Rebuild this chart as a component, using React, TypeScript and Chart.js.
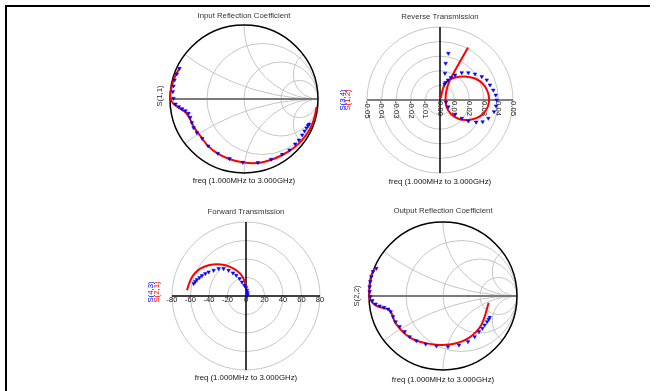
import React, { useEffect, useRef } from "react";
import { Chart, registerables } from "chart.js";
Chart.register(...registerables);

// ---------- data ----------
const FREQ_LABEL = "freq (1.000MHz to 3.000GHz)";

// S(1,1) red line, S(1,1) blue markers (reflection coefficient, re/im)
const s11Line: [number, number][] = [
  [-0.87, 0.42], [-0.93, 0.31], [-0.975, 0.18], [-0.995, 0.03], [-0.96, -0.06],
  [-0.88, -0.12], [-0.79, -0.18], [-0.73, -0.27], [-0.67, -0.39], [-0.59, -0.5],
  [-0.49, -0.63], [-0.36, -0.735], [-0.2, -0.81], [-0.02, -0.855], [0.18, -0.865],
  [0.37, -0.82], [0.53, -0.75], [0.68, -0.655], [0.8, -0.54], [0.89, -0.41],
  [0.95, -0.26], [0.98, -0.11],
];
const s11Marks: [number, number][] = [
  [-0.872, 0.414], [-0.908, 0.338], [-0.939, 0.257], [-0.953, 0.176], [-0.962, 0.099],
  [-0.953, 0.009], [-0.926, -0.068], [-0.881, -0.104], [-0.836, -0.131], [-0.791, -0.158],
  [-0.75, -0.194], [-0.727, -0.248], [-0.705, -0.32], [-0.682, -0.387], [-0.637, -0.455],
  [-0.565, -0.532], [-0.484, -0.635], [-0.354, -0.734], [-0.196, -0.806], [-0.016, -0.856],
  [0.187, -0.86], [0.367, -0.815], [0.516, -0.748], [0.615, -0.689], [0.691, -0.608],
  [0.741, -0.554], [0.786, -0.486], [0.818, -0.432], [0.845, -0.392], [0.865, -0.36],
  [0.88, -0.34],
];

// Reverse transmission: S(1,2) red line, S(3,4) blue markers
const s12Line: [number, number][] = [
  [0.0005, 0.0012], [0.0014, 0.0055], [0.0027, 0.0096], [0.0048, 0.0127], [0.0082, 0.0147],
  [0.013, 0.0159], [0.0185, 0.016], [0.024, 0.0147], [0.0288, 0.0116], [0.0322, 0.0068],
  [0.0336, 0.0014], [0.0329, -0.0041], [0.0301, -0.0089], [0.0253, -0.0123], [0.0192, -0.0137],
  [0.013, -0.013], [0.0075, -0.0096], [0.0045, -0.0048], [0.0038, 0.0007], [0.0045, 0.0068],
  [0.0062, 0.0123], [0.0086, 0.0171], [0.0116, 0.0226], [0.0151, 0.0288], [0.0192, 0.036],
];
const s34Marks: [number, number][] = [
  [0.0041, -0.0014], [0.0057, -0.0046], [0.0103, -0.0098], [0.0149, -0.0125], [0.0194, -0.0144],
  [0.0247, -0.0151], [0.0292, -0.0149], [0.0331, -0.0125], [0.037, -0.008], [0.0384, -0.0041],
  [0.0388, 0.0], [0.0382, 0.0034], [0.0365, 0.0068], [0.0342, 0.0103], [0.032, 0.0137],
  [0.0286, 0.016], [0.024, 0.0178], [0.0194, 0.0187], [0.0149, 0.0187], [0.0103, 0.0171],
  [0.0075, 0.0154], [0.0055, 0.0137], [0.0038, 0.012], [0.0031, 0.011], [0.0034, 0.0183],
  [0.0039, 0.0251], [0.0057, 0.032],
];

// Forward transmission: S(2,1) red line, S(4,3) blue markers
const s21Line: [number, number][] = [
  [0.5, 1], [0.5, 5], [0, 9.7], [-1.8, 17], [-6.2, 24.2], [-13.4, 29.6], [-22.4, 33.2],
  [-31.4, 34.3], [-40.4, 33.2], [-49.4, 29.6], [-55, 24.8], [-58.6, 20], [-61.5, 13.5],
  [-63.8, 6.2],
];
const s43Marks: [number, number][] = [
  [-56.6, 13.4], [-54.8, 15.6], [-53, 17.7], [-50.3, 19.9], [-47.6, 22], [-44, 24.2],
  [-40.4, 26], [-35, 27.8], [-29.6, 29.6], [-24.2, 29.6], [-18.8, 27.8], [-14.1, 24.9],
  [-10.5, 22.4], [-6.9, 18.8], [-4.3, 15.1], [-1.8, 11.6], [0, 9.1], [1.1, 6.2],
  [1.7, 3.7], [1.7, 1.4], [1.1, 0],
];

// Output reflection: S(2,2) red line, S(2,2) blue markers
const s22Line: [number, number][] = [
  [-0.923, 0.374], [-0.968, 0.284], [-0.991, 0.171], [-0.995, 0.059], [-0.991, -0.032],
  [-0.946, -0.099], [-0.878, -0.144], [-0.788, -0.167], [-0.721, -0.189], [-0.685, -0.257],
  [-0.653, -0.347], [-0.586, -0.437], [-0.495, -0.527], [-0.383, -0.595], [-0.225, -0.64],
  [-0.045, -0.662], [0.113, -0.653], [0.248, -0.617], [0.36, -0.559], [0.45, -0.482],
  [0.518, -0.392], [0.563, -0.279], [0.595, -0.167], [0.617, -0.09],
];
const s22Marks: [number, number][] = [
  [-0.901, 0.374], [-0.946, 0.329], [-0.968, 0.261], [-0.982, 0.194], [-0.991, 0.126],
  [-0.991, 0.059], [-0.982, -0.009], [-0.955, -0.063], [-0.91, -0.108], [-0.856, -0.135],
  [-0.797, -0.153], [-0.743, -0.176], [-0.707, -0.212], [-0.676, -0.279], [-0.64, -0.347],
  [-0.586, -0.414], [-0.518, -0.482], [-0.45, -0.55], [-0.36, -0.604], [-0.234, -0.649],
  [-0.09, -0.676], [0.068, -0.685], [0.216, -0.662], [0.338, -0.617], [0.428, -0.55],
  [0.486, -0.482], [0.532, -0.437], [0.563, -0.392], [0.595, -0.347], [0.617, -0.315],
  [0.631, -0.288],
];

const smithCircles = [1 / 3, 1, 3];
const smithArcs = [1 / 3, 1, 3];
const reverseTicks = [-0.05, -0.04, -0.03, -0.02, -0.01, 0, 0.01, 0.02, 0.03, 0.04, 0.05];
const forwardTicks = [-80, -60, -40, -20, 0, 20, 40, 60, 80];

// ---------- layout / style ----------
const CW = 220;
const CH = 200;
const FONT = '"Liberation Sans", Arial, sans-serif';
const RED = "#ff0000";
const BLUE = "#0000ff";
const GRID = "#c6c6c6";

type YLabel = { text: string; color: string; dx: number; dy: number };
type PanelCfg = {
  kind: "smith" | "polar";
  cx: number; cy: number; R: number; max: number;
  title: string; titleDy: number; freqDy: number;
  line: [number, number][]; marks: [number, number][];
  ylabels: YLabel[];
  ticks?: number[]; tickMode?: "rot" | "flat"; hAxisColor?: string;
};

const panels: PanelCfg[] = [
  {
    kind: "smith", cx: 244, cy: 99, R: 74, max: 1,
    title: "Input Reflection Coefficient", titleDy: -83, freqDy: 82,
    line: s11Line, marks: s11Marks,
    ylabels: [{ text: "S(1,1)", color: "#333", dx: -84, dy: -3 }],
  },
  {
    kind: "polar", cx: 440, cy: 100, R: 73, max: 0.05,
    title: "Reverse Transmission", titleDy: -83, freqDy: 82,
    line: s12Line, marks: s34Marks,
    ylabels: [
      { text: "S(3,4)", color: BLUE, dx: -97, dy: 0 },
      { text: "S(1,2)", color: RED, dx: -92, dy: 0 },
    ],
    ticks: reverseTicks, tickMode: "rot", hAxisColor: "#808080",
  },
  {
    kind: "polar", cx: 246, cy: 296, R: 74, max: 80,
    title: "Forward Transmission", titleDy: -84, freqDy: 82,
    line: s21Line, marks: s43Marks,
    ylabels: [
      { text: "S(4,3)", color: BLUE, dx: -95, dy: -4 },
      { text: "S(2,1)", color: RED, dx: -89, dy: -4 },
    ],
    ticks: forwardTicks, tickMode: "flat", hAxisColor: "#000",
  },
  {
    kind: "smith", cx: 443, cy: 296, R: 74, max: 1,
    title: "Output Reflection Coefficient", titleDy: -85, freqDy: 84,
    line: s22Line, marks: s22Marks,
    ylabels: [{ text: "S(2,2)", color: "#333", dx: -86, dy: 0 }],
  },
];

function drawGrid(chart: any, cfg: PanelCfg) {
  const ctx: CanvasRenderingContext2D = chart.ctx;
  const xs = chart.scales.x;
  const ys = chart.scales.y;
  const cx = xs.getPixelForValue(0);
  const cy = ys.getPixelForValue(0);
  const R = xs.getPixelForValue(cfg.max) - cx;
  const u = R / cfg.max;
  ctx.save();
  if (cfg.kind === "smith") {
    ctx.save();
    ctx.beginPath();
    ctx.arc(cx, cy, R, 0, Math.PI * 2);
    ctx.clip();
    ctx.strokeStyle = GRID;
    ctx.lineWidth = 1;
    for (const r of smithCircles) {
      ctx.beginPath();
      ctx.arc(xs.getPixelForValue(r / (1 + r)), cy, u / (1 + r), 0, Math.PI * 2);
      ctx.stroke();
    }
    for (const xv of smithArcs) {
      for (const s of [1, -1]) {
        ctx.beginPath();
        ctx.arc(xs.getPixelForValue(1), ys.getPixelForValue(s / xv), u / xv, 0, Math.PI * 2);
        ctx.stroke();
      }
    }
    ctx.restore();
    ctx.strokeStyle = "#7a7a7a";
    ctx.lineWidth = 2;
    ctx.beginPath();
    ctx.moveTo(xs.getPixelForValue(-1), cy);
    ctx.lineTo(xs.getPixelForValue(1), cy);
    ctx.stroke();
    ctx.strokeStyle = "#000";
    ctx.lineWidth = 1.5;
    ctx.beginPath();
    ctx.arc(cx, cy, R, 0, Math.PI * 2);
    ctx.stroke();
  } else {
    ctx.strokeStyle = GRID;
    ctx.lineWidth = 1;
    for (const t of cfg.ticks || []) {
      if (t <= 0) continue;
      ctx.beginPath();
      ctx.arc(cx, cy, xs.getPixelForValue(t) - cx, 0, Math.PI * 2);
      ctx.stroke();
    }
    ctx.strokeStyle = cfg.hAxisColor || "#000";
    ctx.lineWidth = cfg.hAxisColor === "#000" ? 1.5 : 2;
    ctx.beginPath();
    ctx.moveTo(xs.getPixelForValue(-cfg.max), cy);
    ctx.lineTo(xs.getPixelForValue(cfg.max), cy);
    ctx.stroke();
    ctx.strokeStyle = "#000";
    ctx.lineWidth = 1.5;
    ctx.beginPath();
    ctx.moveTo(cx, ys.getPixelForValue(cfg.max));
    ctx.lineTo(cx, ys.getPixelForValue(-cfg.max));
    ctx.stroke();
    // tick labels
    ctx.fillStyle = "#111";
    for (const t of cfg.ticks || []) {
      const x = xs.getPixelForValue(t);
      if (cfg.tickMode === "rot") {
        ctx.save();
        ctx.font = `7.7px ${FONT}`;
        ctx.translate(x, cy + 1);
        ctx.rotate(Math.PI / 2);
        ctx.textAlign = "left";
        ctx.textBaseline = "middle";
        ctx.fillText(t.toFixed(2), 0, 0);
        ctx.restore();
      } else {
        ctx.font = `7.5px ${FONT}`;
        ctx.textAlign = "center";
        ctx.textBaseline = "middle";
        ctx.fillText(String(t), x, cy + 4);
      }
    }
  }
  ctx.restore();
}

function drawText(chart: any, cfg: PanelCfg) {
  const ctx: CanvasRenderingContext2D = chart.ctx;
  const cx = chart.scales.x.getPixelForValue(0);
  const cy = chart.scales.y.getPixelForValue(0);
  ctx.save();
  ctx.textAlign = "center";
  ctx.textBaseline = "middle";
  ctx.font = `7.8px ${FONT}`;
  ctx.fillStyle = "#333";
  ctx.fillText(cfg.title, cx, cy + cfg.titleDy);
  ctx.fillStyle = "#111";
  ctx.fillText(FREQ_LABEL, cx, cy + cfg.freqDy);
  for (const yl of cfg.ylabels) {
    ctx.save();
    ctx.translate(cx + yl.dx, cy + yl.dy);
    ctx.rotate(-Math.PI / 2);
    ctx.fillStyle = yl.color;
    ctx.fillText(yl.text, 0, 0);
    ctx.restore();
  }
  ctx.restore();
}

function Panel({ cfg }: { cfg: PanelCfg }) {
  const ref = useRef<HTMLCanvasElement>(null);
  useEffect(() => {
    const canvas = ref.current!;
    const padX = CW / 2 - cfg.R;
    const padY = CH / 2 - cfg.R;
    const plugin = {
      id: "panelDecor",
      beforeDatasetsDraw(chart: any) { drawGrid(chart, cfg); },
      afterDraw(chart: any) { drawText(chart, cfg); },
    };
    const chart = new Chart(canvas, {
      type: "scatter",
      data: {
        datasets: [
          {
            data: cfg.marks.map(([x, y]) => ({ x, y })),
            pointStyle: "triangle",
            rotation: 180,
            pointRadius: 2.1,
            backgroundColor: BLUE,
            borderColor: BLUE,
            borderWidth: 0.5,
            showLine: false,
            clip: false,
          } as any,
          {
            data: cfg.line.map(([x, y]) => ({ x, y })),
            showLine: true,
            borderColor: RED,
            borderWidth: 2,
            pointRadius: 0,
            tension: 0.25,
            fill: false,
            clip: false,
          } as any,
        ],
      },
      options: {
        animation: false,
        responsive: false,
        maintainAspectRatio: false,
        devicePixelRatio: 1,
        events: [],
        layout: { padding: { left: padX, right: padX, top: padY, bottom: padY } },
        scales: {
          x: { type: "linear", min: -cfg.max, max: cfg.max, display: false },
          y: { type: "linear", min: -cfg.max, max: cfg.max, display: false },
        },
        plugins: {
          legend: { display: false },
          tooltip: { enabled: false },
          title: { display: false },
        },
      },
      plugins: [plugin],
    });
    return () => chart.destroy();
  }, [cfg]);
  return (
    <canvas
      ref={ref}
      width={CW}
      height={CH}
      style={{ position: "absolute", left: cfg.cx - CW / 2, top: cfg.cy - CH / 2, width: CW, height: CH }}
    />
  );
}

export default function App() {
  return (
    <div style={{ position: "absolute", left: 0, top: 0, width: 660, height: 391, overflow: "hidden", background: "#fff" }}>
      <div
        style={{
          position: "absolute", left: 5, top: 5, width: 645, height: 400,
          borderTop: "2px solid #000", borderLeft: "2px solid #000", boxSizing: "border-box",
        }}
      />
      {panels.map((p, i) => (
        <Panel key={i} cfg={p} />
      ))}
    </div>
  );
}
